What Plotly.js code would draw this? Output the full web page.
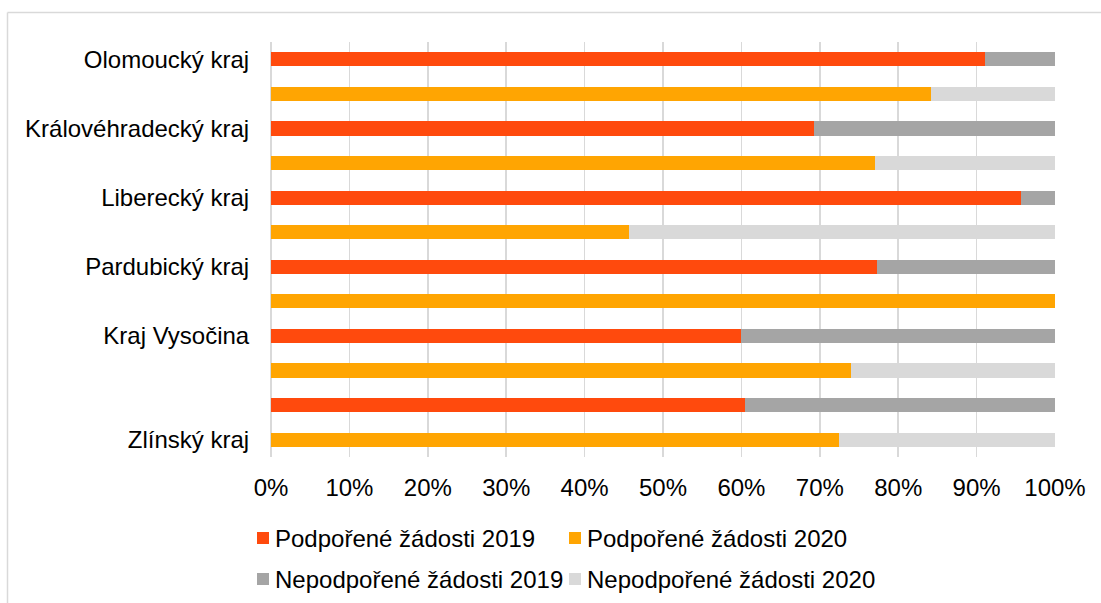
<!DOCTYPE html>
<html>
<head>
<meta charset="utf-8">
<script src="https://cdn.plot.ly/plotly-3.0.1.min.js"></script>
<style>
  html, body { margin: 0; padding: 0; background: #ffffff; }
  #chart { width: 1101px; height: 603px; }
</style>
</head>
<body>
<div id="chart"></div>
<script>
// Share of supported / unsupported applications per region, in percent
const regions = ['Olomoucký kraj', 'Královéhradecký kraj', 'Liberecký kraj',
                 'Pardubický kraj', 'Kraj Vysočina', 'Zlínský kraj'];
const years = ['2019', '2020'];
// which year row carries the region's axis label
const labelYear = ['2019', '2019', '2019', '2019', '2019', '2020'];

const supported2019   = [91.1, 69.2, 95.7, 77.3, 60.0, 60.4];
const unsupported2019 = [ 8.9, 30.8,  4.3, 22.7, 40.0, 39.6];
const supported2020   = [84.2, 77.1, 45.7, 100.0, 74.0, 72.4];
const unsupported2020 = [15.8, 22.9, 54.3,  0.0, 26.0, 27.6];

const seriesNames = ['Podpořené žádosti 2019', 'Podpořené žádosti 2020',
                     'Nepodpořené žádosti 2019', 'Nepodpořené žádosti 2020'];
const seriesColors = ['#FF4A0D', '#FFA502', '#A5A5A5', '#D9D9D9'];

const xTicks = [0, 10, 20, 30, 40, 50, 60, 70, 80, 90, 100];

// one category row per region and year
const rows = [];
regions.forEach(r => years.forEach(y => rows.push(r + ' ' + y)));

function column(values, year) {
  const out = [];
  regions.forEach((r, i) => years.forEach(y => out.push(y === year ? values[i] : null)));
  return out;
}

const seriesValues = [
  column(supported2019, '2019'),
  column(supported2020, '2020'),
  column(unsupported2019, '2019'),
  column(unsupported2020, '2020')
];

const traces = seriesValues.map((vals, i) => ({
  type: 'bar',
  orientation: 'h',
  name: seriesNames[i],
  x: vals,
  y: rows,
  marker: { color: seriesColors[i], line: { width: 0 } },
  hovertemplate: '%{y}: %{x:.1f}%<extra>' + seriesNames[i] + '</extra>'
}));

const FONT = 'Liberation Sans, Arial, sans-serif';
const FS = 24;

// plot box in pixels, used to place the frame and the legend below it
const W = 1101, H = 603;
const M = { l: 271, r: 46, t: 42, b: 146 };
const plotW = W - M.l - M.r, plotH = H - M.t - M.b;
const px = x => (x - M.l) / plotW;
const py = y => (H - M.b - y) / plotH;

// two-by-two legend: swatch + label
const legendCols = [257, 569];
const legendRows = [538, 579];
const legendShapes = [], legendNotes = [];
seriesNames.forEach((name, i) => {
  const cx = legendCols[i % 2], cy = legendRows[Math.floor(i / 2)];
  legendShapes.push({
    type: 'rect', xref: 'paper', yref: 'paper',
    x0: px(cx), x1: px(cx + 12), y0: py(cy + 6), y1: py(cy - 6),
    fillcolor: seriesColors[i], line: { width: 0 }
  });
  legendNotes.push({
    xref: 'paper', yref: 'paper', x: px(cx + 16), y: py(cy),
    xanchor: 'left', yanchor: 'middle', showarrow: false,
    text: name, font: { family: FONT, size: FS, color: '#000000' }
  });
});

const layout = {
  width: W,
  height: H,
  margin: Object.assign({ autoexpand: false }, M),
  paper_bgcolor: '#ffffff',
  plot_bgcolor: '#ffffff',
  font: { family: FONT, size: FS, color: '#000000' },
  barmode: 'stack',
  bargap: 0.59,
  showlegend: false,
  xaxis: {
    range: [0, 100],
    tickvals: xTicks,
    ticktext: xTicks.map(v => v + '%'),
    showgrid: true,
    gridcolor: '#D9D9D9',
    gridwidth: 1.5,
    zeroline: true,
    zerolinecolor: '#D9D9D9',
    zerolinewidth: 1.5,
    showline: false,
    ticks: 'outside',
    ticklen: 9,
    tickcolor: 'rgba(0,0,0,0)',
    tickfont: { family: FONT, size: FS, color: '#000000' },
    fixedrange: true
  },
  yaxis: {
    type: 'category',
    categoryorder: 'array',
    categoryarray: rows,
    autorange: 'reversed',
    tickvals: regions.map((r, i) => r + ' ' + labelYear[i]),
    ticktext: regions,
    showgrid: false,
    zeroline: false,
    showline: false,
    ticks: 'outside',
    ticklen: 16,
    tickcolor: 'rgba(0,0,0,0)',
    tickfont: { family: FONT, size: FS, color: '#000000' },
    fixedrange: true
  },
  shapes: [
    // light frame around the chart area
    { type: 'line', xref: 'paper', yref: 'paper', x0: px(7.5), x1: px(W + 10), y0: py(12.5), y1: py(12.5),
      line: { color: '#D9D9D9', width: 1.5 } },
    { type: 'line', xref: 'paper', yref: 'paper', x0: px(7.5), x1: px(7.5), y0: py(12.5), y1: py(H + 10),
      line: { color: '#D9D9D9', width: 1.5 } }
  ].concat(legendShapes),
  annotations: legendNotes
};

Plotly.newPlot('chart', traces, layout, { displayModeBar: false, staticPlot: true });
</script>
</body>
</html>
